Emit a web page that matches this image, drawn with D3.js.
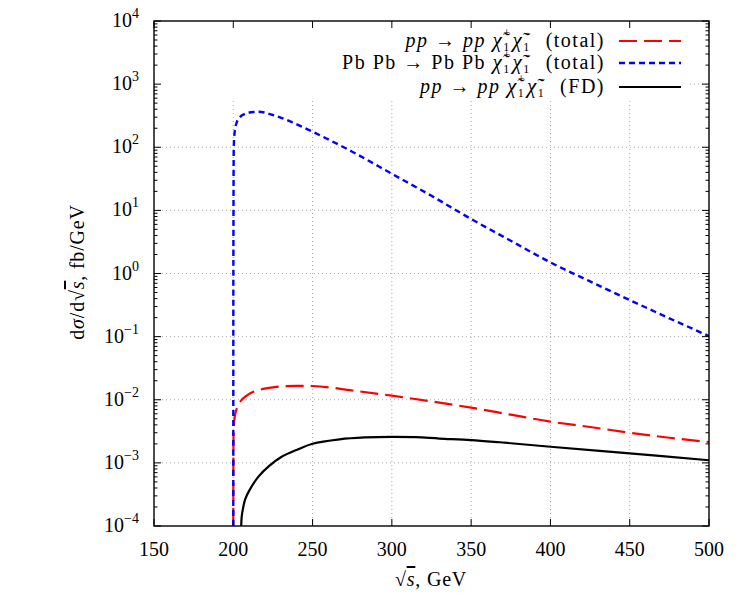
<!DOCTYPE html>
<html><head><meta charset="utf-8">
<script src="https://cdn.jsdelivr.net/npm/d3@7"></script>
<style>
body{margin:0;background:#fff;}
text{font-family:"Liberation Serif","Times New Roman",serif;fill:#000;}
</style></head>
<body><svg id="c" width="750" height="600"></svg>
<script>
// ---- data ----
const xTicks = [150,200,250,300,350,400,450,500];
const yExps = [-4,-3,-2,-1,0,1,2,3,4];
const sqrtS_red = [200.0,200.1,200.3,201,202,203.4,205,207.6,211,216,225,233,240,250,275,300,325,350,375,400,425,450,475,500];
const sig_red   = [1e-4,0.002,0.0037,0.0055,0.007,0.0085,0.0098,0.0112,0.0128,0.0142,0.0157,0.0164,0.0166,0.0165,0.0140,0.0116,0.0094,0.0075,0.0058,0.0045,0.0037,0.0030,0.0025,0.00214];
const sqrtS_blue = [200.0,200.05,200.3,201,202,204.4,207,209.7,213,216,225,237,250,275,300,325,350,375,400,425,450,475,500];
const sig_blue   = [1e-4,1,100,186,240,303,335,352,362,366,324,250,176,85,38,17,7.3,3.3,1.5,0.75,0.38,0.195,0.102];
const sqrtS_black = [205.0,205.3,206.3,207.6,210.5,216,222.3,230.5,241,250,267,283,300,315,330,350,368,400,450,500];
const sig_black   = [1e-4,0.00014,0.0002,0.00027,0.00038,0.00061,0.00088,0.00125,0.00165,0.00201,0.00236,0.00253,0.00259,0.00255,0.00243,0.0023,0.00212,0.0018,0.00141,0.0011];

const svg = d3.select("#c");
const L=154,R=709,T=21,B=526;
const x = d3.scaleLinear([150,500],[L,R]);
const y = d3.scaleLog([1e-4,1e4],[B,T]);

// grid
const g = svg.append("g");
xTicks.slice(1,-1).forEach(v=>g.append("line").attr("x1",x(v)).attr("x2",x(v)).attr("y1",T).attr("y2",B)
  .attr("stroke","#aaa").attr("stroke-width",1).attr("stroke-dasharray","1,3"));
yExps.slice(1,-1).forEach(e=>g.append("line").attr("x1",L).attr("x2",R).attr("y1",y(Math.pow(10,e))).attr("y2",y(Math.pow(10,e)))
  .attr("stroke","#aaa").attr("stroke-width",1).attr("stroke-dasharray","1,3"));
// key box blanking
svg.append("rect").attr("x",L+1).attr("y",T+1).attr("width",689-L).attr("height",97-T).attr("fill","#fff");

// curves
svg.append("clipPath").attr("id","pc").append("rect").attr("x",L).attr("y",T).attr("width",R-L).attr("height",B-T);
const line = d3.line().x(d=>x(d[0])).y(d=>y(d[1])).curve(d3.curveMonotoneX);
const lineSmooth = d3.line().x(d=>x(d[0])).y(d=>y(d[1])).curve(d3.curveCatmullRom.alpha(0.5));
const cg = svg.append("g").attr("clip-path","url(#pc)");
cg.append("path").datum(d3.zip(sqrtS_black,sig_black)).attr("d",lineSmooth).attr("fill","none").attr("stroke","#000").attr("stroke-width",2.2);
cg.append("path").datum(d3.zip(sqrtS_red,sig_red)).attr("d",line).attr("fill","none").attr("stroke","#ff0000").attr("stroke-width",2.2).attr("stroke-dasharray","18,7");
cg.append("path").datum(d3.zip(sqrtS_blue,sig_blue)).attr("d",line).attr("fill","none").attr("stroke","#0000ff").attr("stroke-width",2.4).attr("stroke-dasharray","6,4");

// axes frame & ticks
const ax = svg.append("g").attr("stroke","#000").attr("stroke-width",1);
ax.append("rect").attr("x",L).attr("y",T).attr("width",R-L).attr("height",B-T).attr("fill","none").attr("stroke-width",1.4);
xTicks.forEach(v=>{
  ax.append("line").attr("x1",x(v)).attr("x2",x(v)).attr("y1",B).attr("y2",B-7);
  ax.append("line").attr("x1",x(v)).attr("x2",x(v)).attr("y1",T).attr("y2",T+7);
});
yExps.forEach(e=>{
  const yy=y(Math.pow(10,e));
  ax.append("line").attr("x1",L).attr("x2",L+7).attr("y1",yy).attr("y2",yy);
  ax.append("line").attr("x1",R).attr("x2",R-7).attr("y1",yy).attr("y2",yy);
  if(e<4) for(let k=2;k<10;k++){
    const ym=y(k*Math.pow(10,e));
    ax.append("line").attr("x1",L).attr("x2",L+3.5).attr("y1",ym).attr("y2",ym);
    ax.append("line").attr("x1",R).attr("x2",R-3.5).attr("y1",ym).attr("y2",ym);
  }
});

// tick labels
const fs=20;
xTicks.forEach(v=>svg.append("text").attr("x",x(v)).attr("y",556).attr("text-anchor","middle").attr("font-size",fs).text(v));
yExps.forEach(e=>{
  const t=svg.append("text").attr("x",139).attr("y",y(Math.pow(10,e))+6).attr("text-anchor","end").attr("font-size",fs);
  t.append("tspan").text("10");
  t.append("tspan").attr("dy",-9).attr("font-size",14).text(e<0?"\u2212"+(-e):String(e));
});

// axis titles
const xt=svg.append("text").attr("x",431).attr("y",586).attr("text-anchor","middle").attr("font-size",fs).attr("letter-spacing",0.8);
xt.append("tspan").text("\u221A");
xt.append("tspan").attr("font-style","italic").style("text-decoration","overline").text("s");
xt.append("tspan").text(", GeV");
const yt=svg.append("text").attr("transform","translate(84,272) rotate(-90)").attr("text-anchor","middle").attr("font-size",fs).attr("letter-spacing",0.8);
yt.append("tspan").text("d");
yt.append("tspan").attr("font-style","italic").text("\u03C3");
yt.append("tspan").text("/d\u221A");
yt.append("tspan").attr("font-style","italic").style("text-decoration","overline").text("s");
yt.append("tspan").text(", fb/GeV");

// legend
const legendLabels = [
  [{t:"pp",i:1},{t:" \u2192 "},{t:"pp",i:1},{t:" "},{chi:"+"},{chi:"\u2212"},{t:"  (total)"}],
  [{t:"Pb Pb \u2192 Pb Pb "},{chi:"+"},{chi:"\u2212"},{t:"  (total)"}],
  [{t:"pp",i:1},{t:" \u2192 "},{t:"pp",i:1},{t:" "},{chi:"+"},{chi:"\u2212"},{t:"  (FD)"}]
];
const legendY=[41,63,87];
const legendStroke=[["#ff0000","18,7",2.2],["#0000ff","6,4",2.4],["#000",null,2.2]];
const ls=1.5;
legendLabels.forEach((pieces,idx)=>{
  const lg=svg.append("g");
  let cx=0; const by=legendY[idx]+6;
  pieces.forEach(p=>{
    if(p.chi){
      const c=lg.append("text").attr("x",cx).attr("y",by).attr("font-size",fs+1).attr("font-style","italic").style("white-space","pre").text("\u03C7\u0303");
      cx+=c.node().getComputedTextLength()+1.5;
      const s1=lg.append("text").attr("x",cx).attr("y",by-10).attr("font-size",12).text(p.chi);
      const s2=lg.append("text").attr("x",cx).attr("y",by+4).attr("font-size",12).text("1");
      cx+=Math.max(s1.node().getComputedTextLength(),s2.node().getComputedTextLength())+2.5;
    } else {
      const t=lg.append("text").attr("x",cx).attr("y",by).attr("font-size",fs).attr("letter-spacing",ls).style("white-space","pre").text(p.t);
      if(p.i) t.attr("font-style","italic");
      cx+=t.node().getComputedTextLength();
    }
  });
  lg.attr("transform",`translate(${605-cx},0)`);
  const st=legendStroke[idx];
  const ln=svg.append("line").attr("x1",619).attr("x2",681).attr("y1",legendY[idx]).attr("y2",legendY[idx]).attr("stroke",st[0]).attr("stroke-width",st[2]);
  if(st[1]) ln.attr("stroke-dasharray",st[1]);
});
</script></body></html>
